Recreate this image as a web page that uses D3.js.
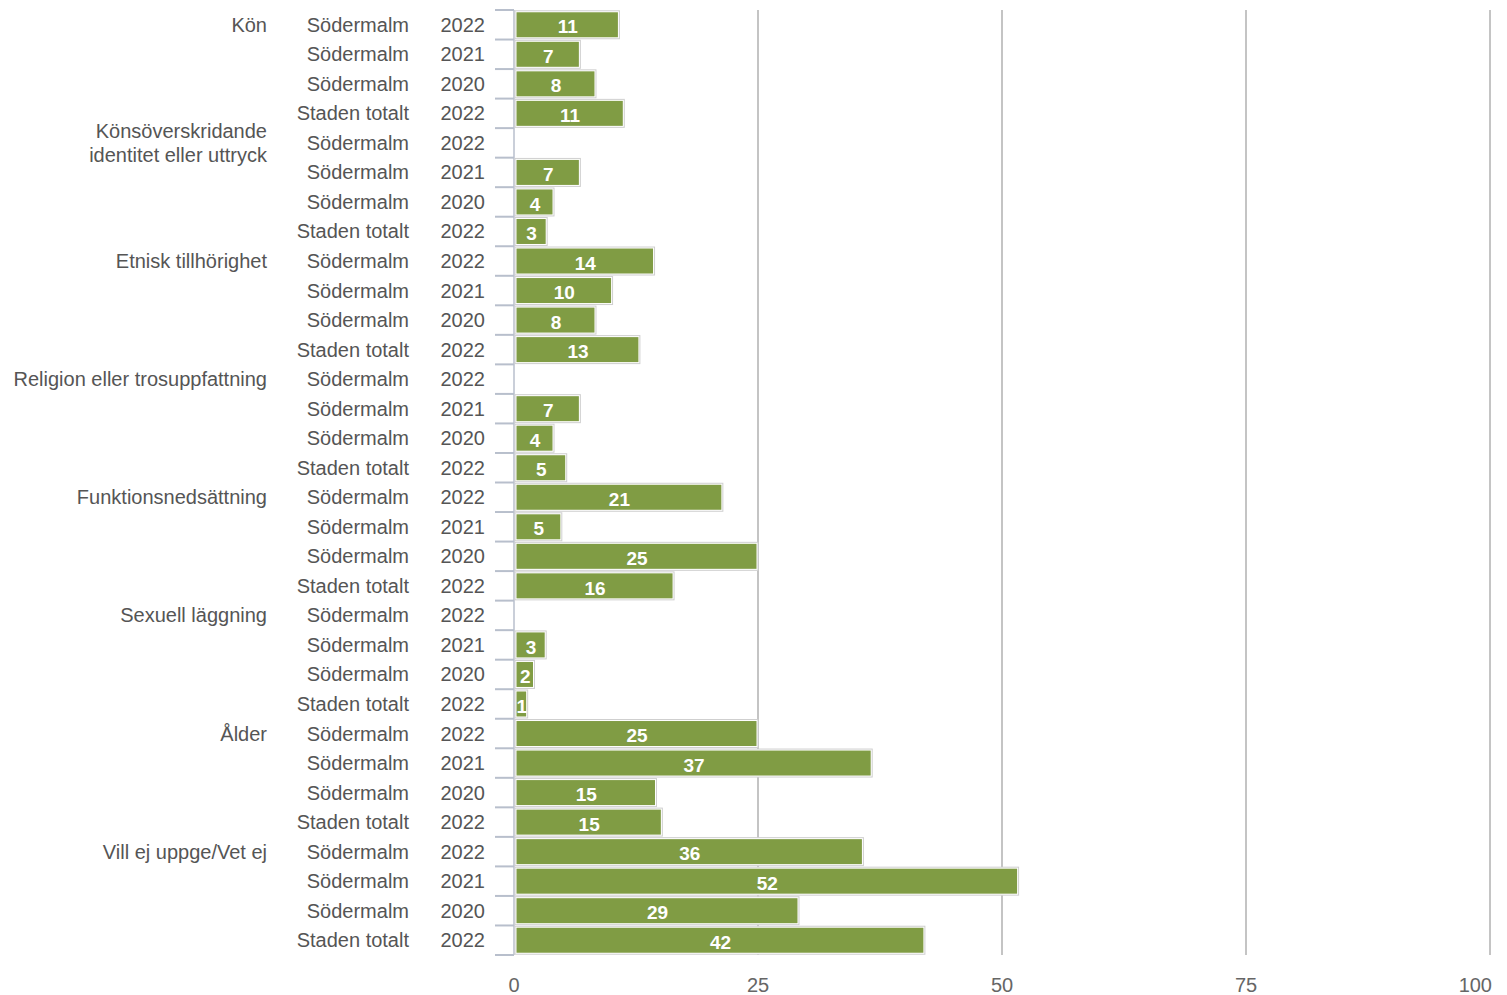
<!DOCTYPE html>
<html><head><meta charset="utf-8">
<script src="https://cdn.jsdelivr.net/npm/d3@7"></script>
<style>body{margin:0;background:#fff;}svg{display:block;font-family:"Liberation Sans",Arial,sans-serif;}</style>
</head><body>
<svg id="c" width="1507" height="995"></svg>
<script>
const groups = ["Kön","Könsöverskridande\nidentitet eller uttryck","Etnisk tillhörighet","Religion eller trosuppfattning","Funktionsnedsättning","Sexuell läggning","Ålder","Vill ej uppge/Vet ej"];
const areas = ["Södermalm","Södermalm","Södermalm","Staden totalt"];
const years = ["2022","2021","2020","2022"];
// values; labels are shown rounded
const values = [
  [10.8,6.8,8.4,11.3],
  [null,6.8,4.1,3.4],
  [14.4,10.1,8.4,12.9],
  [null,6.8,4.1,5.4],
  [21.4,4.9,25.0,16.4],
  [null,3.3,2.1,1.4],
  [25.0,36.7,14.6,15.2],
  [35.8,51.7,29.2,42.1]
];
const xTicks = [0,25,50,75,100];

const rows = [];
groups.forEach((g,gi)=>values[gi].forEach((v,i)=>rows.push({g,gi,i,area:areas[i],year:years[i],v,id:gi*4+i})));

const svg = d3.select("#c");
const x = d3.scaleLinear().domain([0,100]).range([514,1490]);
const y = d3.scaleBand().domain(rows.map(r=>r.id)).range([10,955]).paddingInner(0.12).paddingOuter(0.06);

// gridlines
svg.append("g").selectAll("line").data(xTicks.filter(t=>t>0)).join("line")
  .attr("x1",d=>x(d)).attr("x2",d=>x(d)).attr("y1",10).attr("y2",955)
  .attr("stroke","#c4c4c4").attr("stroke-width",2);

// axis line and row ticks
svg.append("line").attr("x1",514).attr("x2",514).attr("y1",10).attr("y2",955).attr("stroke","#b8bfcc").attr("stroke-width",1.5);
const bounds = d3.range(rows.length+1).map(i=>10+i*(945/rows.length));
svg.append("g").selectAll("line").data(bounds).join("line")
  .attr("x1",495).attr("x2",514).attr("y1",d=>d).attr("y2",d=>d)
  .attr("stroke","#b8bfcc").attr("stroke-width",2);

// bars
const bars = rows.filter(r=>r.v!=null);
svg.append("g").selectAll("rect").data(bars).join("rect")
  .attr("x",x(0)+1).attr("y",d=>y(d.id)-1)
  .attr("width",d=>x(d.v)-x(0)-1).attr("height",y.bandwidth()+2)
  .attr("fill","#fff").attr("stroke","#cfcfcf").attr("stroke-width",1);
svg.append("g").selectAll("rect").data(bars).join("rect")
  .attr("x",x(0)+2.5).attr("y",d=>y(d.id)+0.5)
  .attr("width",d=>x(d.v)-x(0)-4).attr("height",y.bandwidth()-1)
  .attr("fill","#809c44");
svg.append("g").selectAll("text").data(bars).join("text")
  .attr("x",d=>(x(0)+x(d.v))/2+1).attr("y",d=>y(d.id)+y.bandwidth()/2+2)
  .attr("dy","0.35em").attr("text-anchor","middle")
  .attr("fill","#fff").attr("font-size",19).attr("font-weight","bold")
  .text(d=>Math.round(d.v));

// row labels
const cy = d=>y(d.id)+y.bandwidth()/2;
svg.append("g").selectAll("text").data(rows).join("text")
  .attr("x",409).attr("y",cy).attr("dy","0.35em").attr("text-anchor","end")
  .attr("fill","#555").attr("font-size",20).text(d=>d.area);
svg.append("g").selectAll("text").data(rows).join("text")
  .attr("x",485).attr("y",cy).attr("dy","0.35em").attr("text-anchor","end")
  .attr("fill","#555").attr("font-size",20).text(d=>d.year);

// group labels
const gl = svg.append("g").selectAll("text").data(rows.filter(r=>r.i===0)).join("text")
  .attr("text-anchor","end").attr("fill","#555").attr("font-size",20)
  .attr("transform",d=>`translate(267,${cy(d)})`);
gl.each(function(d){
  const lines = d.g.split("\n");
  const t = d3.select(this);
  lines.forEach((l,k)=>t.append("tspan").attr("x",0)
    .attr("y",(k-(lines.length-1)/2)*24).attr("dy","0.35em").text(l));
});

// x axis labels
svg.append("g").selectAll("text").data(xTicks).join("text")
  .attr("x",d=>x(d)).attr("y",985).attr("dy","0.35em")
  .attr("text-anchor",d=>d===100?"end":"middle").attr("dx",d=>d===100?2:0)
  .attr("fill","#666").attr("font-size",20).text(d=>d);
</script>
</body></html>
